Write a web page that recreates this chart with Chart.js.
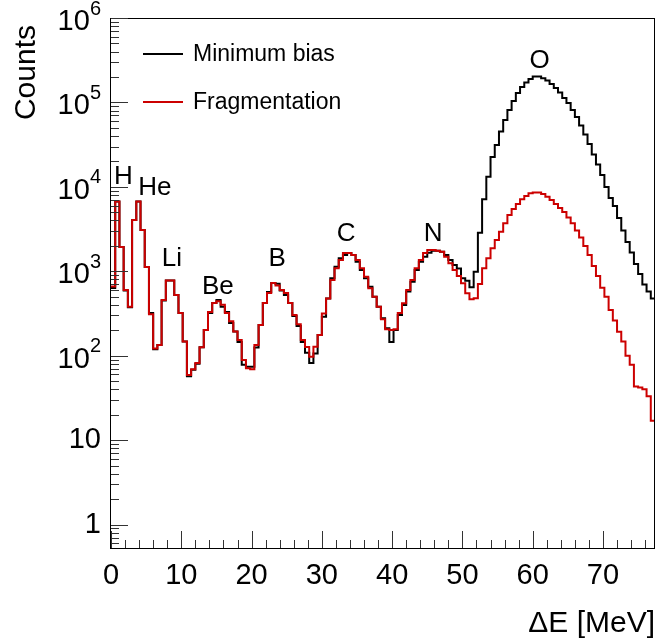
<!doctype html>
<html lang="en">
<head>
    <meta charset="utf-8">
    <title>Energy loss spectrum</title>
    <script src="https://cdn.jsdelivr.net/npm/chart.js"></script>
    <style>
        html, body { margin: 0; padding: 0; background: #fff; }
        #wrap { width: 656px; height: 643px; position: relative; }
    </style>
</head>
<body>
    <div id="wrap"><canvas id="chart"></canvas></div>
    <script>
        // histogram bins, 0.6 MeV wide, starting at 0
        const binWidth = 0.6;
        const seriesNames = ['Minimum bias', 'Fragmentation'];
        const seriesColors = ['#000000', '#cc0000'];

        const minBias = [
            635, 6700, 1940, 590, 375, 4050, 6700, 3085, 1125, 321,
            119, 134, 450, 775, 775, 524, 321, 147, 57, 68,
            80, 126, 202, 321, 421, 457, 380, 330, 243, 193,
            145, 78, 74, 74, 125, 231, 421, 567, 727, 710,
            590, 524, 421, 295, 225, 145, 108, 82, 106, 176,
            290, 476, 826, 1130, 1425, 1560, 1650, 1560, 1300, 1036,
            826, 655, 500, 380, 277, 211, 145, 202, 303, 399,
            575, 753, 1036, 1300, 1490, 1660, 1750, 1750, 1700, 1560,
            1360, 1190, 1080, 826, 770, 646, 989, 2866, 7130, 13200,
            22600, 31300, 45100, 62100, 81500, 104200, 129700, 152700, 172500, 189800,
            202300, 202300, 193500, 181300, 165600, 148500, 131300, 113000, 98700, 81500,
            67300, 53400, 41800, 32200, 24200, 18400, 13800, 9970, 7390, 5940,
            4280, 3040, 2220, 1670, 1220, 929, 698, 576, 476
        ];
        const fragmentation = [
            660, 6700, 1940, 600, 380, 4050, 6700, 3085, 1125, 310,
            122, 134, 457, 775, 775, 524, 321, 147, 59, 69,
            82, 126, 202, 330, 421, 440, 400, 321, 255, 193,
            153, 89, 71, 69, 134, 231, 421, 553, 727, 680,
            600, 553, 421, 303, 236, 153, 127, 97, 128, 176,
            317, 476, 789, 1085, 1360, 1650, 1650, 1560, 1360, 1085,
            860, 630, 500, 380, 270, 205, 202, 205, 321, 417,
            600, 789, 1085, 1360, 1650, 1787, 1787, 1750, 1700, 1490,
            1240, 1036, 880, 720, 549, 466, 479, 707, 1086, 1426,
            1875, 2350, 2946, 3705, 4647, 5470, 6270, 7130, 7800, 8400,
            8540, 8540, 8240, 7650, 7000, 6270, 5620, 5040, 4340, 3710,
            3030, 2510, 1993, 1560, 1156, 879, 638, 500, 348, 261,
            192, 147, 100, 78, 43, 42, 40, 33, 17
        ];

        const xTicks = [0, 10, 20, 30, 40, 50, 60, 70];
        const yDecades = [0, 1, 2, 3, 4, 5, 6];

        // element labels over the peaks
        const peakNames = ['H', 'He', 'Li', 'Be', 'B', 'C', 'N', 'O'];
        const peakE = [1.78, 6.25, 8.66, 15.2, 23.65, 33.45, 45.84, 61.0];
        const peakCounts = [13200, 9700, 1400, 652, 1400, 2770, 2770, 310000];

        const xMax = minBias.length * binWidth;
        const yMin = 0.527, yMax = 1e6;
        const FONT = '"Liberation Sans", Arial, Helvetica, sans-serif';

        function toSteps(values) {
            const pts = values.map((v, i) => ({ x: i * binWidth, y: v }));
            pts.push({ x: values.length * binWidth, y: values[values.length - 1] });
            return pts;
        }

        const rootStyle = {
            id: 'rootStyle',
            afterDatasetsDraw(chart) {
                const ctx = chart.ctx;
                const xs = chart.scales.x, ys = chart.scales.y;
                const a = chart.chartArea;
                ctx.save();

                // frame
                ctx.strokeStyle = '#000';
                ctx.lineWidth = 1;
                ctx.strokeRect(a.left - 0.5, a.top + 0.5, a.right - a.left, a.bottom - a.top);

                // y ticks (log)
                ctx.strokeStyle = '#333';
                ctx.beginPath();
                for (let d = -1; d <= 6; d++) {
                    for (let m = 1; m <= 9; m++) {
                        const v = m * Math.pow(10, d);
                        if (v < yMin || v > yMax) continue;
                        const py = Math.round(ys.getPixelForValue(v)) + 0.5;
                        const len = m === 1 ? 17 : 8;
                        ctx.moveTo(a.left, py);
                        ctx.lineTo(a.left + len, py);
                    }
                }
                // x ticks
                for (let t = 0; t <= xMax; t += 2) {
                    const px = Math.round(xs.getPixelForValue(t)) + 0.5;
                    const len = t % 10 === 0 ? 17 : 8;
                    ctx.moveTo(px, a.bottom);
                    ctx.lineTo(px, a.bottom - len);
                }
                ctx.stroke();

                // tick labels
                ctx.fillStyle = '#000';
                ctx.font = '29px ' + FONT;
                ctx.textAlign = 'center';
                ctx.textBaseline = 'middle';
                xTicks.forEach(t => {
                    ctx.fillText(String(t), xs.getPixelForValue(t), a.bottom + 28);
                });
                yDecades.forEach(d => {
                    const py = ys.getPixelForValue(Math.pow(10, d));
                    const right = 101;
                    if (d < 2) {
                        ctx.font = '29px ' + FONT;
                        ctx.textAlign = 'right';
                        ctx.fillText(d === 0 ? '1' : '10', right, py);
                    } else {
                        ctx.font = '20px ' + FONT;
                        ctx.textAlign = 'right';
                        const ew = ctx.measureText(String(d)).width;
                        ctx.fillText(String(d), right, py - 9);
                        ctx.font = '29px ' + FONT;
                        ctx.fillText('10', right - ew, py + 4);
                    }
                });

                // axis titles
                ctx.font = '30px ' + FONT;
                ctx.textAlign = 'right';
                ctx.textBaseline = 'alphabetic';
                ctx.fillText('\u0394E [MeV]', 655, 632);
                ctx.save();
                ctx.translate(35, 25);
                ctx.rotate(-Math.PI / 2);
                ctx.fillText('Counts', 0, 0);
                ctx.restore();

                // legend
                ctx.font = '23px ' + FONT;
                ctx.textAlign = 'left';
                ctx.textBaseline = 'middle';
                const legendY = [54, 102];
                chart.data.datasets.forEach((ds, i) => {
                    ctx.strokeStyle = ds.borderColor;
                    ctx.lineWidth = 2;
                    ctx.beginPath();
                    ctx.moveTo(143, legendY[i]);
                    ctx.lineTo(183, legendY[i]);
                    ctx.stroke();
                    ctx.fillStyle = '#000';
                    ctx.fillText(ds.label, 193, legendY[i] + 1);
                });

                // peak labels
                ctx.font = '26px ' + FONT;
                ctx.textAlign = 'center';
                ctx.textBaseline = 'middle';
                peakNames.forEach((n, i) => {
                    ctx.fillText(n, xs.getPixelForValue(peakE[i]), ys.getPixelForValue(peakCounts[i]));
                });

                ctx.restore();
            }
        };

        new Chart(document.getElementById('chart'), {
            type: 'line',
            data: {
                datasets: [
                    {
                        label: seriesNames[0],
                        data: toSteps(minBias),
                        borderColor: seriesColors[0],
                        borderWidth: 2,
                        stepped: true,
                        pointRadius: 0,
                        fill: false,
                        order: 1
                    },
                    {
                        label: seriesNames[1],
                        data: toSteps(fragmentation),
                        borderColor: seriesColors[1],
                        borderWidth: 2,
                        stepped: true,
                        pointRadius: 0,
                        fill: false,
                        order: 0
                    }
                ]
            },
            options: {
                responsive: true,
                maintainAspectRatio: false,
                animation: false,
                layout: { padding: { left: 111, right: 1, top: 18, bottom: 95 } },
                plugins: { legend: { display: false }, tooltip: { enabled: false } },
                scales: {
                    x: { type: 'linear', min: 0, max: xMax, display: false },
                    y: { type: 'logarithmic', min: yMin, max: yMax, display: false }
                }
            },
            plugins: [rootStyle]
        });
    </script>
</body>
</html>
